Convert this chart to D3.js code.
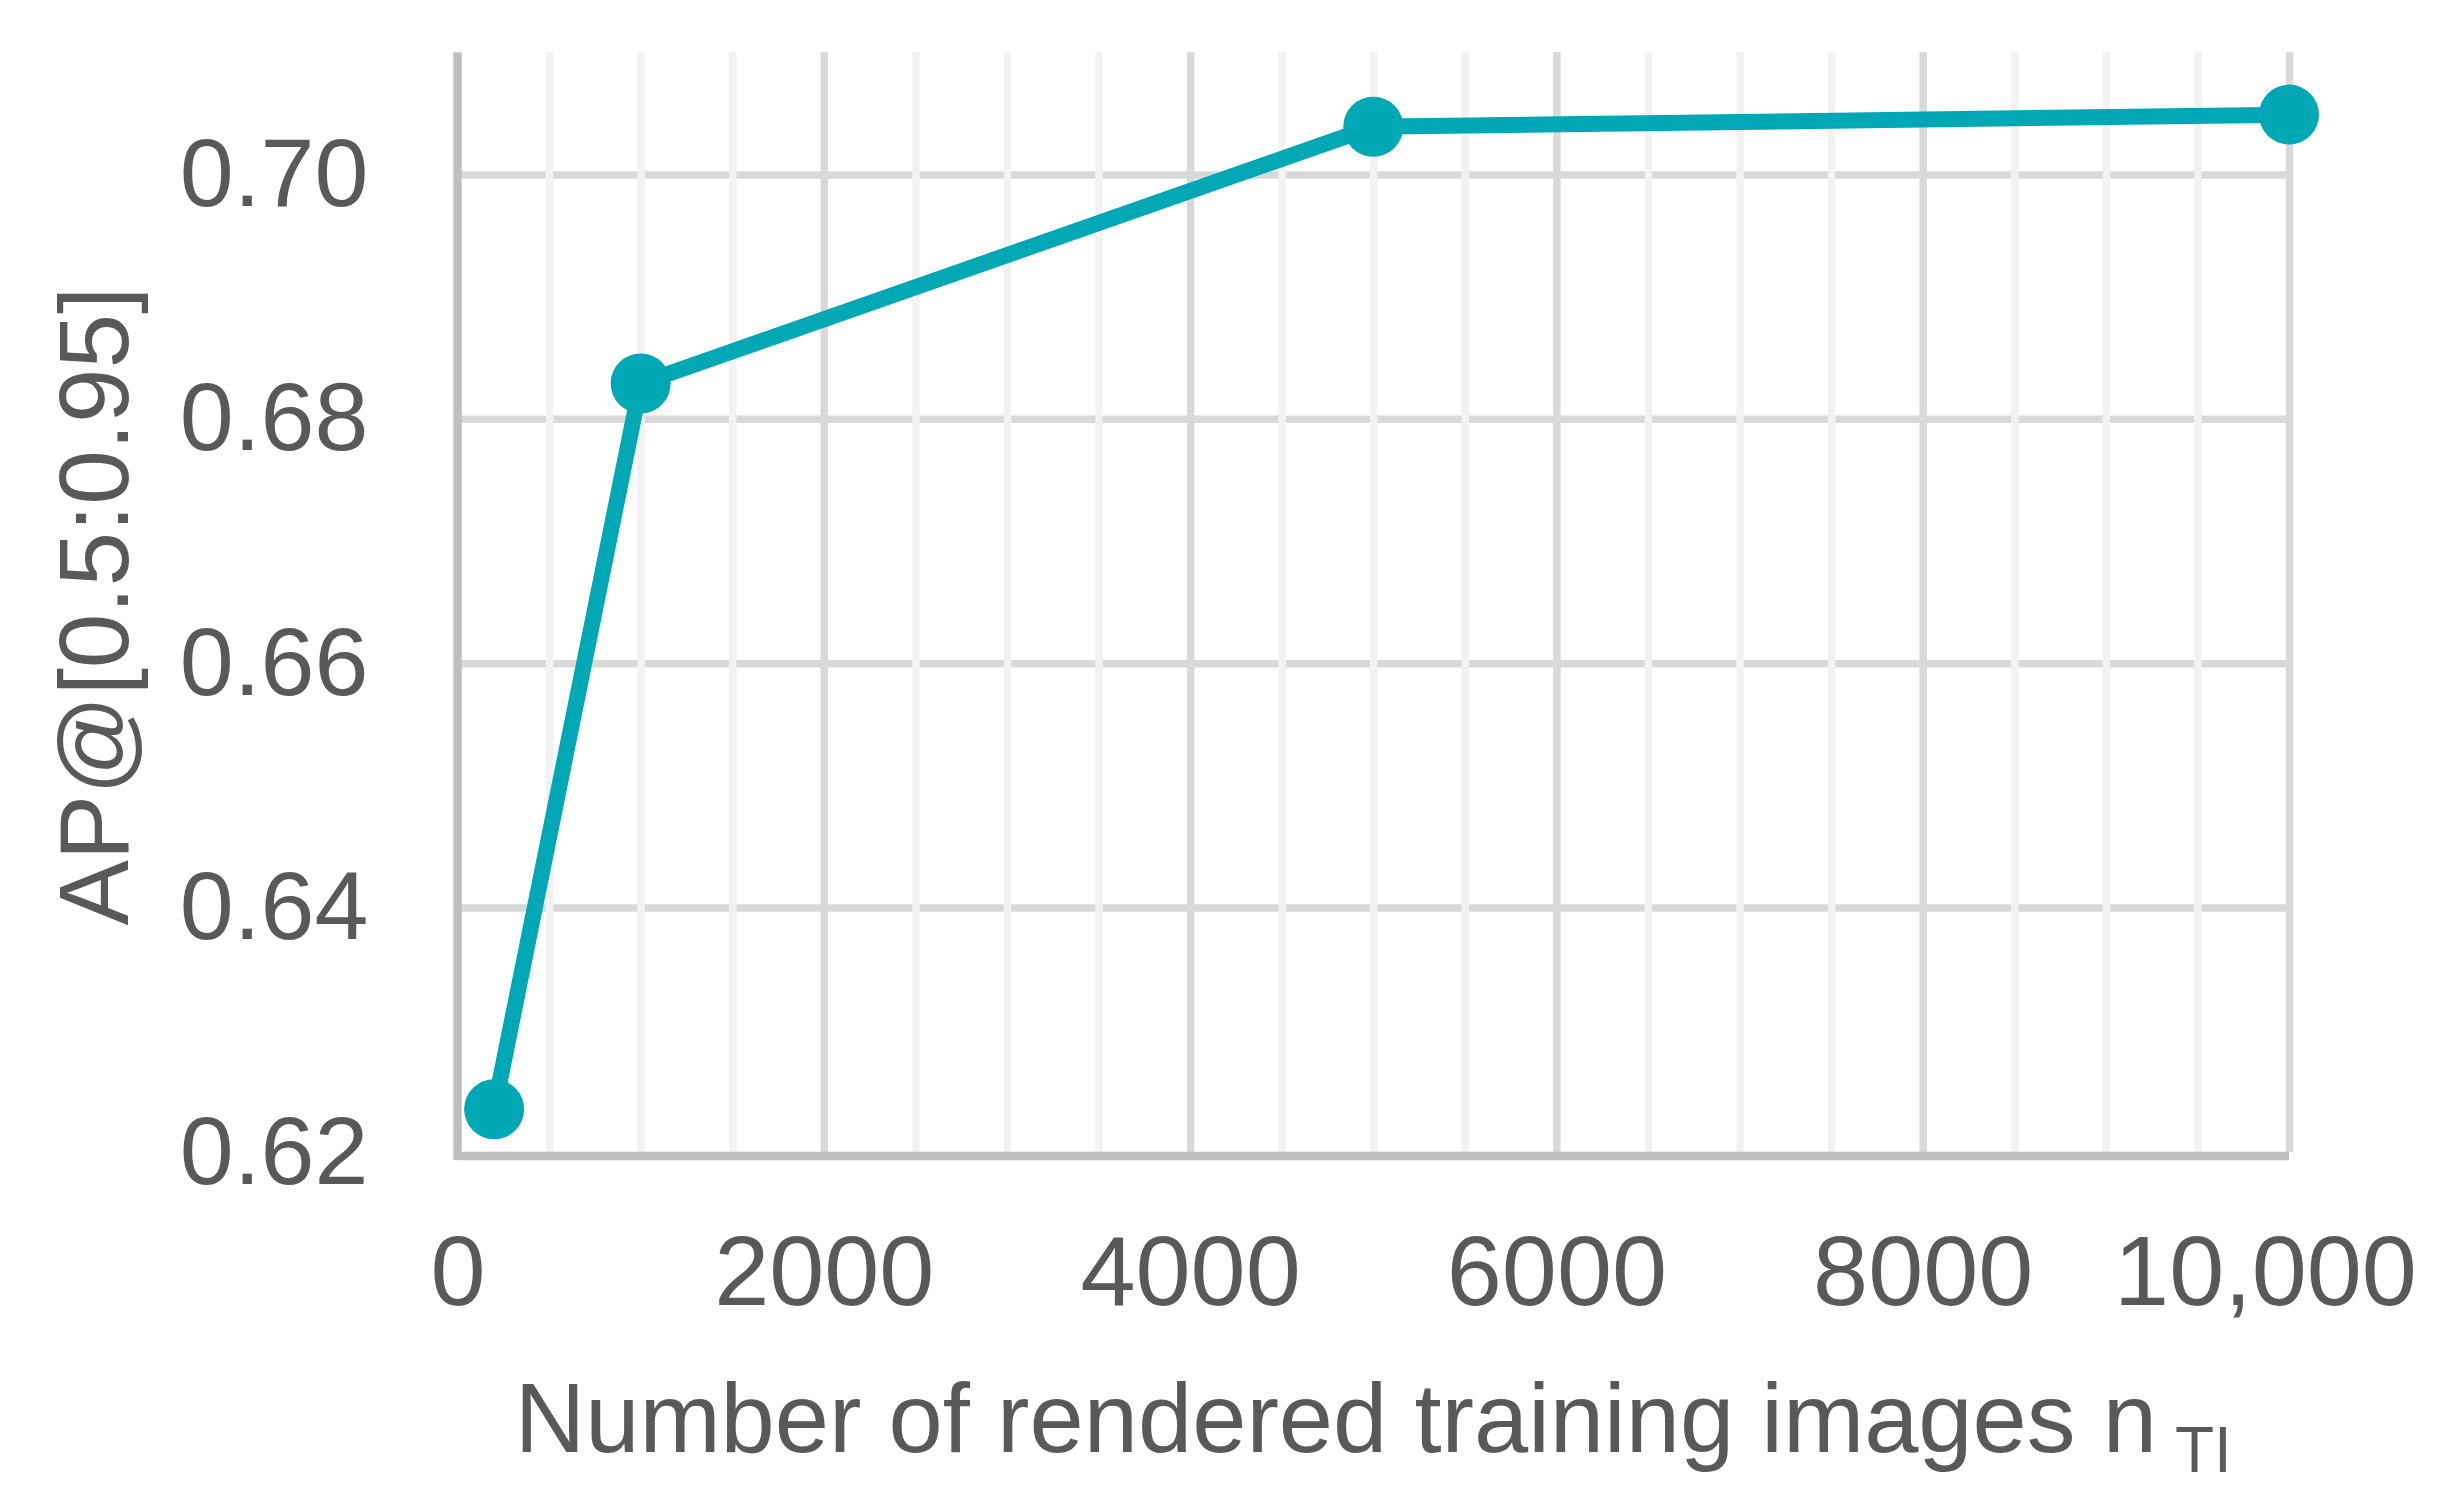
<!DOCTYPE html>
<html>
<head>
<meta charset="utf-8">
<script src="https://cdn.jsdelivr.net/npm/d3@7"></script>
<style>
  body { margin: 0; background: #fff; }
  text { font-family: "Liberation Sans", Arial, sans-serif; fill: #595959; }
</style>
</head>
<body>
<script>
// data
const nImages = [200, 1000, 5000, 10000];
const apValues = [0.6235, 0.6829, 0.7039, 0.7049];
const xTicks = [0, 2000, 4000, 6000, 8000, 10000];
const xTickLabels = ["0", "2000", "4000", "6000", "8000", "10,000"];
const yTicks = [0.62, 0.64, 0.66, 0.68, 0.70];

const W = 2459, H = 1498;
const plotLeft = 457.5, plotRight = 2289, plotTop = 52.3, plotBottom = 1152;

const svg = d3.select("body")
  .append("svg")
  .attr("width", W)
  .attr("height", H);

const x = d3.scaleLinear().domain([0, 10000]).range([plotLeft, plotRight]);
const y = d3.scaleLinear().domain([0.62, 0.71]).range([plotBottom, plotTop]);

// horizontal gridlines
svg.append("g")
  .attr("transform", `translate(${plotLeft},0)`)
  .call(d3.axisLeft(y).tickValues(yTicks.slice(1)).tickSize(-(plotRight - plotLeft)).tickFormat(""))
  .call(g => g.select(".domain").remove())
  .selectAll("line")
  .attr("stroke", "#d9d9d9")
  .attr("stroke-width", 7.5);

// minor vertical gridlines every 500
const minor = d3.range(500, 10000, 500).filter(v => v % 2000 !== 0);
svg.append("g")
  .attr("transform", `translate(0,${plotBottom})`)
  .call(d3.axisBottom(x).tickValues(minor).tickSize(-(plotBottom - plotTop)).tickFormat(""))
  .call(g => g.select(".domain").remove())
  .selectAll("line")
  .attr("stroke", "#f2f2f2")
  .attr("stroke-width", 7.5);

// major vertical gridlines
svg.append("g")
  .attr("transform", `translate(0,${plotBottom})`)
  .call(d3.axisBottom(x).tickValues(xTicks.slice(1)).tickSize(-(plotBottom - plotTop)).tickFormat(""))
  .call(g => g.select(".domain").remove())
  .selectAll("line")
  .attr("stroke", "#d9d9d9")
  .attr("stroke-width", 7.5);

// axis lines
svg.append("line")
  .attr("x1", x(0)).attr("x2", x(0))
  .attr("y1", plotTop).attr("y2", plotBottom + 8)
  .attr("stroke", "#bfbfbf")
  .attr("stroke-width", 8.5);

svg.append("line")
  .attr("x1", x(0)).attr("x2", x(10000))
  .attr("y1", plotBottom + 4).attr("y2", plotBottom + 4)
  .attr("stroke", "#bfbfbf")
  .attr("stroke-width", 8.5);

// y tick labels
svg.append("g")
  .attr("transform", `translate(${plotLeft},0)`)
  .call(d3.axisLeft(y).tickValues(yTicks).tickSize(0).tickPadding(89).tickFormat(d3.format(".2f")))
  .call(g => g.select(".domain").remove())
  .selectAll("text")
  .style("font-size", "97px")
  .attr("fill", "#595959");

// x tick labels
svg.append("g")
  .attr("transform", `translate(0,${plotBottom})`)
  .call(d3.axisBottom(x).tickValues(xTicks).tickSize(0).tickFormat((d, i) => xTickLabels[i]))
  .call(g => g.select(".domain").remove())
  .selectAll("text")
  .attr("y", 153)
  .attr("dy", null)
  .attr("dx", (d, i) => i === xTicks.length - 1 ? -24 : 0)
  .style("font-size", "99px")
  .attr("fill", "#595959");

// line + markers
const line = d3.line()
  .x((d, i) => x(nImages[i]))
  .y(d => y(d));

svg.append("path")
  .datum(apValues)
  .attr("d", line)
  .attr("fill", "none")
  .attr("stroke", "#00a7b5")
  .attr("stroke-width", 16);

svg.selectAll("circle.pt")
  .data(apValues)
  .enter()
  .append("circle")
  .attr("class", "pt")
  .attr("cx", (d, i) => x(nImages[i]))
  .attr("cy", d => y(d))
  .attr("r", 30)
  .attr("fill", "#00a7b5");

// axis titles
svg.append("text")
  .attr("transform", `translate(128,${(plotTop + plotBottom) / 2 + 4}) rotate(-90)`)
  .attr("text-anchor", "middle")
  .style("font-size", "98px")
  .text("AP@[0.5:0.95]");

const xt = svg.append("text")
  .attr("x", (plotLeft + plotRight) / 2)
  .attr("y", 1452)
  .attr("text-anchor", "middle")
  .style("font-size", "97.5px");
xt.append("tspan").text("Number of rendered training images n");
xt.append("tspan")
  .attr("dx", 18)
  .attr("dy", 20)
  .style("font-size", "64px")
  .text("TI");
</script>
</body>
</html>
